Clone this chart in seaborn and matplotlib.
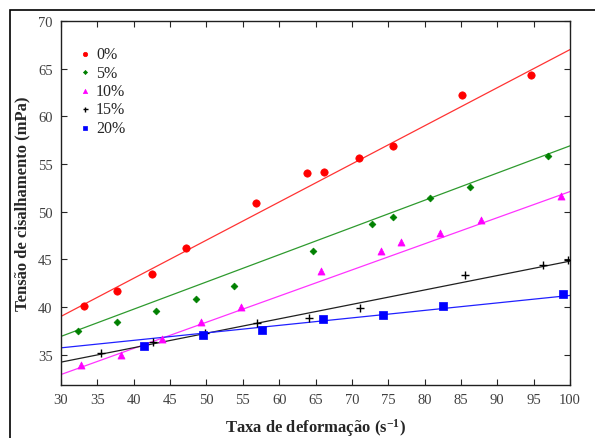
import numpy as np
import pandas as pd
import seaborn as sns
import matplotlib.pyplot as plt
from matplotlib.patches import Rectangle

# Points (shear rate, shear stress) per concentration
x_0 = [33.1, 37.7, 42.5, 47.2, 56.8, 63.8, 66.2, 71.0, 75.7, 85.2, 94.6]
y_0 = [40.1, 41.7, 43.4, 46.2, 50.9, 54.1, 54.2, 55.6, 56.9, 62.2, 64.3]

x_5 = [32.3, 37.7, 43.0, 48.5, 53.8, 64.6, 72.8, 75.6, 80.8, 86.2, 97.0]
y_5 = [37.5, 38.4, 39.6, 40.8, 42.2, 45.9, 48.7, 49.4, 51.4, 52.6, 55.8]

x_10 = [32.8, 38.3, 43.9, 49.2, 54.7, 65.7, 74.0, 76.7, 82.1, 87.7, 98.7]
y_10 = [33.9, 35.0, 36.6, 38.4, 40.0, 43.8, 45.9, 46.8, 47.8, 49.1, 51.6]

x_15 = [35.5, 42.7, 49.8, 56.9, 64.1, 71.1, 85.5, 96.3, 99.7]
y_15 = [35.2, 36.3, 37.3, 38.3, 38.8, 39.9, 43.3, 44.4, 44.9]

x_20 = [41.4, 49.5, 57.7, 66.0, 74.3, 82.6, 99.1]
y_20 = [35.9, 37.0, 37.6, 38.7, 39.1, 40.1, 41.3]

# Fitted lines at x = 30 and x = 100
fit_x = [30, 100]
fit_0 = [39.0, 67.0]
fit_5 = [36.9, 56.9]
fit_10 = [32.9, 52.1]
fit_15 = [34.2, 44.8]
fit_20 = [35.7, 41.2]

labels = ['0%', '5%', '10%', '15%', '20%']
xs = [x_0, x_5, x_10, x_15, x_20]
ys = [y_0, y_5, y_10, y_15, y_20]
fits = [fit_0, fit_5, fit_10, fit_15, fit_20]

point_colors = ['#ff0000', '#008000', '#ff00ff', '#000000', '#0000ff']
line_colors = ['#ff3333', '#2e9a2e', '#ff33ff', '#202020', '#2020ff']
markers = ['o', 'D', '^', '+', 's']
sizes = [28, 12, 26, 36, 26]

sns.set_style('ticks')
plt.rcParams['font.family'] = ['Liberation Serif', 'DejaVu Serif']
plt.rcParams['mathtext.fontset'] = 'custom'
plt.rcParams['mathtext.rm'] = 'Liberation Serif:bold'
plt.rcParams['mathtext.bf'] = 'Liberation Serif:bold'
plt.rcParams['mathtext.default'] = 'bf'

fig = plt.figure(figsize=(5.95, 4.39), dpi=100)
ax = fig.add_axes([61 / 595, 53 / 439, 509 / 595, 364 / 439])

# outer frame of the original figure (only top and left are visible)
fig.patches.append(Rectangle((10 / 595, -0.1), 1.2, (439 - 11) / 439 + 0.1,
                             transform=fig.transFigure, fill=False,
                             edgecolor='black', linewidth=1.2))

for lab, x, y, fit, pc, lc, m, s in zip(labels, xs, ys, fits, point_colors,
                                        line_colors, markers, sizes):
    line_df = pd.DataFrame({'x': fit_x, 'y': fit})
    sns.lineplot(data=line_df, x='x', y='y', color=lc, linewidth=0.9, ax=ax)
    pts = pd.DataFrame({'x': x, 'y': y})
    if m == '+':
        sns.scatterplot(data=pts, x='x', y='y', color=pc, marker=m, s=s,
                        linewidth=1.0, ax=ax, label=lab, zorder=3)
    else:
        sns.scatterplot(data=pts, x='x', y='y', color=pc, marker=m, s=s,
                        edgecolor=pc, linewidth=0.5, ax=ax, label=lab, zorder=3)

ax.set_xlim(30, 100)
ax.set_ylim(31.8, 70)
ax.set_xticks(np.arange(30, 101, 5))
ax.set_yticks(np.arange(35, 71, 5))
ax.tick_params(direction='in', length=4, width=0.8, top=True, right=True,
               labelsize=10.5, labelcolor='#404040', pad=6)
for sp in ax.spines.values():
    sp.set_linewidth(1.0)
    sp.set_color('#202020')

ax.set_xlabel('Taxa de deformação (s$^{-1}$)', fontsize=12, fontweight='bold')
ax.set_ylabel('Tensão de cisalhamento (mPa)', fontsize=12, fontweight='bold')
ax.xaxis.set_label_coords(0.5, -0.085, transform=ax.transAxes)
ax.yaxis.set_label_coords(-0.075, 0.5, transform=ax.transAxes)
ax.xaxis.label.set_va('top')
ax.yaxis.label.set_va('center')

leg = ax.legend(loc='upper left', bbox_to_anchor=(0.0, 0.97), frameon=False,
                fontsize=11.5, handletextpad=0.1, labelspacing=0.15,
                markerscale=0.6, handlelength=1.2)

fig.savefig('out.png', dpi=100)
